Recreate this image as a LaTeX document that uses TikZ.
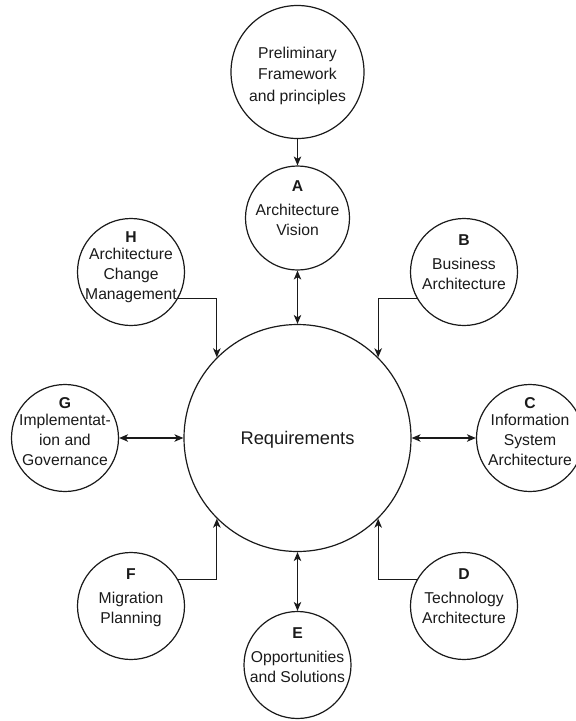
\documentclass[tikz,border=0pt]{standalone}
\usepackage{fontspec}
\setmainfont{Liberation Sans}
\usetikzlibrary{arrows.meta}
\definecolor{ink}{HTML}{1A1A1A}
\begin{document}
\begin{tikzpicture}[x=1pt,y=-1pt,
  phase/.style={circle, draw=ink, line width=1.2pt, minimum size=107pt, inner sep=0pt},
  lbl/.style={align=center, inner sep=0pt, text=ink, font=\fontsize{15.7}{20}\selectfont},
  tip/.style={Stealth[length=9pt,width=7.5pt,inset=2.5pt]},
  link/.style={draw=ink, line width=1.2pt, -{Stealth[length=9pt,width=7.5pt,inset=2.5pt]}},
  link2/.style={draw=ink, line width=1.2pt, {Stealth[length=9pt,width=7.5pt,inset=2.5pt]}-{Stealth[length=9pt,width=7.5pt,inset=2.5pt]}}
]
\useasboundingbox (0,0) rectangle (576,721);

% circles
\node[phase, minimum size=133pt] (pre) at (297.5,72) {};
\node[phase, minimum size=104pt] (a) at (297.5,218) {};
\node[phase, minimum size=227pt] (req) at (297.5,438) {};
\node[phase] (h) at (131,272) {};
\node[phase] (b) at (464,272) {};
\node[phase] (g) at (65,438) {};
\node[phase] (c) at (530,438) {};
\node[phase] (f) at (131,606) {};
\node[phase] (d) at (464,606) {};
\node[phase] (e) at (297.5,665) {};

% texts
\node[lbl] (pre-t) at (297.5,75.5) {\strut Preliminary\\[1.5pt] Framework\\[1.5pt] and principles\strut};
\node[lbl] (a-t) at (297.5,209) {\strut\textbf{A}\\[4pt] Architecture\\ Vision\strut};
\node[lbl] (h-t) at (131,266.5) {\strut\textbf{H}\\[-3pt] Architecture\\ Change\\ Management\strut};
\node[lbl] (b-t) at (464,263) {\strut\textbf{B}\\[4pt] Business\\ Architecture\strut};
\node[lbl] (g-t) at (65,432.5) {\strut\textbf{G}\\[-3pt] Implementat-\\ ion and\\ Governance\strut};
\node[lbl] (c-t) at (530,432.5) {\strut\textbf{C}\\[-3pt] Information\\ System\\ Architecture\strut};
\node[lbl] (f-t) at (131,597) {\strut\textbf{F}\\[4pt] Migration\\ Planning\strut};
\node[lbl] (d-t) at (464,597) {\strut\textbf{D}\\[4pt] Technology\\ Architecture\strut};
\node[lbl] (e-t) at (297.5,656) {\strut\textbf{E}\\[4pt] Opportunities\\ and Solutions\strut};
\node[inner sep=0pt, text=ink, font=\fontsize{18.3}{22}\selectfont, anchor=base] (req-t) at (297.5,444) {Requirements};

% connectors
\draw[link] (pre) -- (a);
\draw[link2] (a) -- (req);
\draw[link] (h.-29) -| (req.135);
\draw[link] (b.209) -| (req.45);
\draw[link] (f.29) -| (req.225);
\draw[link] (d.151) -| (req.315);
\draw[link2] (g) -- (req);
\draw[link2] (req) -- (c);
\draw[link2] (req) -- (e);
\end{tikzpicture}
\end{document}
